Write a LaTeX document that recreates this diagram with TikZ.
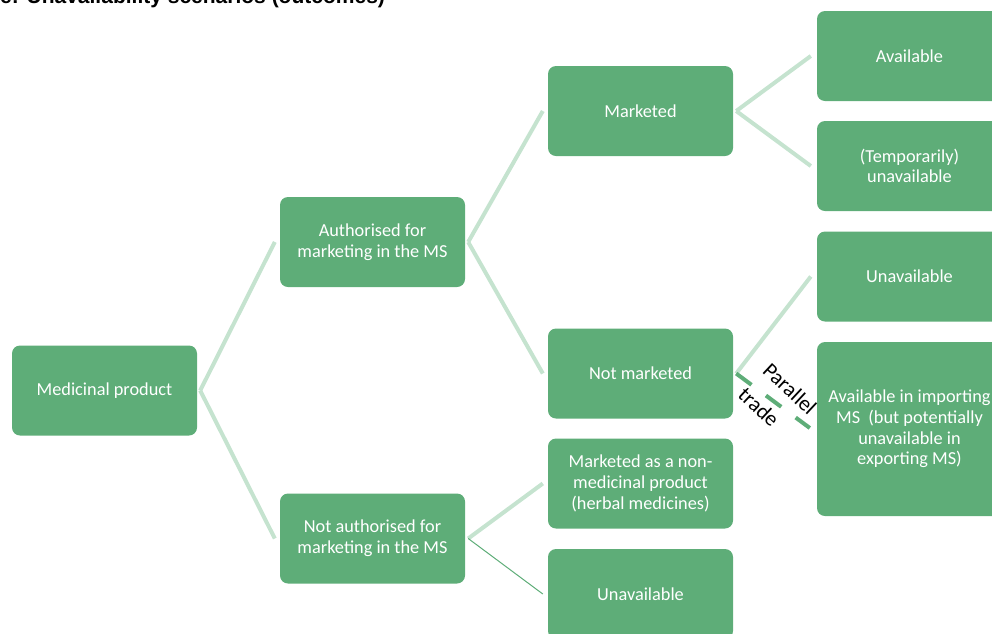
\documentclass[tikz,border=0pt]{standalone}
\usepackage{fontspec}
\setmainfont{Carlito}
\newfontfamily\titlefont{Liberation Sans}
\usetikzlibrary{calc}
\definecolor{boxgreen}{RGB}{94,173,120}
\definecolor{linkgreen}{RGB}{197,227,207}
\begin{document}
\begin{tikzpicture}[x=1pt,y=-1pt,
  box/.style={fill=boxgreen, rounded corners=8pt, minimum width=185pt, minimum height=90pt,
    text=white, align=center, font=\fontsize{18.3}{20.7}\selectfont, inner sep=0pt},
  link/.style={draw=linkgreen, line width=4pt},
  thinlink/.style={draw=boxgreen, line width=1pt},
  tradelink/.style={draw=boxgreen, line width=4pt, dash pattern=on 19pt off 18pt},
  tradelabel/.style={font=\fontsize{21.5}{24}\selectfont, text=black, inner sep=0pt, rotate=-43}
]
\useasboundingbox (0,0) rectangle (992,633);

\node[anchor=base west, inner sep=0pt, font=\titlefont\bfseries\fontsize{21}{24}\selectfont] (title) at (0,3) {e: Unavailability scenarios (outcomes)};

\node[box] (med) at (104.5,390.5) {Medicinal product};
\node[box] (auth) at (372.5,242) {Authorised for\\marketing in the MS};
\node[box] (nauth) at (372.5,538.5) {Not authorised for\\marketing in the MS};
\node[box] (mkt) at (640.5,111) {Marketed};
\node[box] (nmkt) at (640.5,373.5) {Not marketed};
\node[box] (nonmed) at (640.5,483.5) {Marketed as a non-\\medicinal product\\(herbal medicines)};
\node[box] (unavA) at (640.5,594) {Unavailable};
\node[box] (avail) at (909.5,56) {Available};
\node[box] (temp) at (909.5,166) {(Temporarily)\\unavailable};
\node[box] (unavB) at (909.5,276.5) {Unavailable};
\node[box, minimum height=174pt] (imp) at (909.5,429) {Available in importing\\MS\ \ (but potentially\\unavailable in\\exporting MS)};

\draw[link] ($(med.east)+(3,0)$) -- ($(auth.west)+(-5,0)$);
\draw[link] ($(med.east)+(3,0)$) -- ($(nauth.west)+(-5,0)$);
\draw[link] ($(auth.east)+(3,0)$) -- ($(mkt.west)+(-5,0)$);
\draw[link] ($(auth.east)+(3,0)$) -- ($(nmkt.west)+(-5,0)$);
\draw[link] ($(mkt.east)+(3,0)$) -- ($(avail.west)+(-6,0)$);
\draw[link] ($(mkt.east)+(3,0)$) -- ($(temp.west)+(-6,0)$);
\draw[link] ($(nmkt.east)+(3,0)$) -- ($(unavB.west)+(-6,0)$);
\draw[link] ($(nauth.east)+(3,0)$) -- ($(nonmed.west)+(-5,0)$);
\draw[thinlink] ($(nauth.east)+(3,0)$) -- ($(unavA.west)+(-5,0)$);
\draw[tradelink] ($(nmkt.east)+(3,0)$) -- ($(imp.west)+(-7,-1)$);
\node[tradelabel] (par) at (790,389) {Parallel};
\node[tradelabel] (trd) at (759,407) {trade};
\end{tikzpicture}
\end{document}
